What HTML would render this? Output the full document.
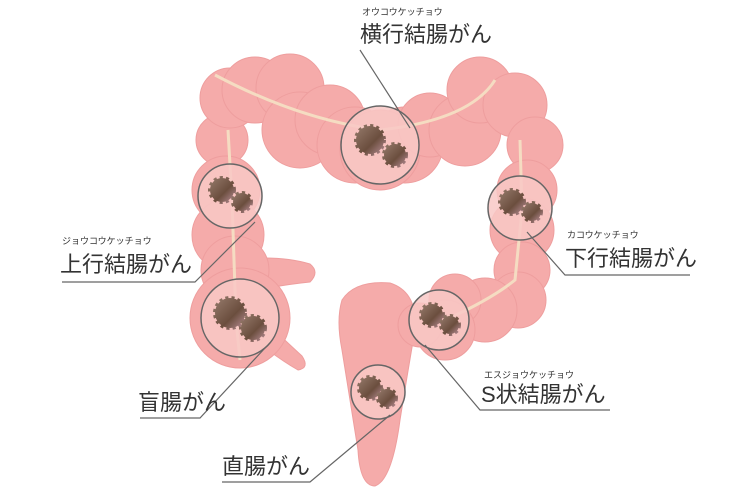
<!DOCTYPE html>
<html><head><meta charset="utf-8"><style>
html,body{margin:0;padding:0;background:#fff}
svg{display:block}
text{font-family:"Liberation Sans","Noto Sans CJK JP",sans-serif;fill:#333}
.big{font-size:22px}
.sm{font-size:9px}
</style></head><body>
<svg width="750" height="500" viewBox="0 0 750 500">
<g fill="#f5abaa" stroke="#ee9e9e" stroke-width="1">
<path d="M265 258 Q290 258 310 264 Q320 272 310 282 Q290 284 268 288 Z"/>
<path d="M272 328 Q290 345 302 356 Q310 368 298 370 Q284 362 268 350 Z"/>
<path d="M342 300 Q355 280 390 283 Q418 292 415 330 Q408 370 400 420 Q392 480 375 486 Q360 486 358 450 Q350 400 342 350 Q336 320 342 300 Z"/>
<circle cx="222" cy="140" r="26"/><circle cx="226" cy="190" r="34"/><circle cx="228" cy="235" r="36"/><circle cx="235" cy="270" r="34"/><circle cx="240" cy="318" r="50"/>
<circle cx="230" cy="98" r="30"/><circle cx="255" cy="90" r="33"/><circle cx="290" cy="88" r="34"/><circle cx="300" cy="130" r="38"/><circle cx="330" cy="120" r="35"/>
<circle cx="355" cy="145" r="38"/><circle cx="405" cy="145" r="38"/><circle cx="380" cy="150" r="40"/>
<circle cx="430" cy="125" r="32"/><circle cx="465" cy="130" r="36"/><circle cx="480" cy="90" r="33"/><circle cx="515" cy="105" r="32"/>
<circle cx="535" cy="145" r="28"/><circle cx="527" cy="190" r="30"/><circle cx="522" cy="230" r="32"/><circle cx="522" cy="270" r="28"/><circle cx="518" cy="300" r="28"/>
<circle cx="485" cy="310" r="32"/><circle cx="455" cy="300" r="26"/><circle cx="445" cy="330" r="30"/><circle cx="420" cy="325" r="22"/>
</g>
<g fill="none" stroke="#f5dcc2" stroke-width="3">
<path d="M215 75 Q300 120 380 130 Q470 120 495 80"/>
<path d="M228 130 L232 200 L236 320 L240 360"/>
<path d="M520 140 L522 210 L515 280 Q490 300 445 320"/>
</g>
<g fill="#f8c8c6" fill-opacity="0.85" stroke="#666" stroke-width="1.5">
<circle cx="380" cy="145" r="39"/><circle cx="230" cy="196" r="32"/><circle cx="520" cy="208" r="32"/>
<circle cx="240" cy="318" r="39"/><circle cx="439" cy="320" r="30"/><circle cx="378" cy="392" r="27"/>
</g>
<defs><linearGradient id="g" x1="0" y1="0" x2="1" y2="1"><stop offset="0" stop-color="#94796a"/><stop offset="0.6" stop-color="#6b4e3e"/><stop offset="1" stop-color="#b48a92"/></linearGradient></defs>
<g fill="url(#g)" stroke="url(#g)" stroke-width="4" stroke-dasharray="3 3">
<circle cx="370" cy="140" r="14"/><circle cx="395" cy="155" r="11"/>
<circle cx="222" cy="190" r="12"/><circle cx="242" cy="202" r="9"/>
<circle cx="512" cy="202" r="12"/><circle cx="532" cy="212" r="9"/>
<circle cx="230" cy="313" r="15"/><circle cx="253" cy="328" r="12"/>
<circle cx="432" cy="315" r="11"/><circle cx="450" cy="325" r="9"/>
<circle cx="370" cy="388" r="11"/><circle cx="387" cy="398" r="9"/>
</g>
<g fill="none" stroke="#666" stroke-width="1.2">
<path d="M360 50 L410 128"/>
<path d="M62 282 L195 282 L255 222"/>
<path d="M690 275 L565 275 L527 232"/>
<path d="M140 418 L200 418 L265 348"/>
<path d="M222 482 L310 482 L390 415"/>
<path d="M610 410 L480 410 L425 345"/>
</g>
<text class="sm" x="362" y="15">オウコウケッチョウ</text>
<text class="big" x="360" y="42">横行結腸がん</text>
<text class="sm" x="62" y="244">ジョウコウケッチョウ</text>
<text class="big" x="60" y="272">上行結腸がん</text>
<text class="sm" x="567" y="238">カコウケッチョウ</text>
<text class="big" x="565" y="266">下行結腸がん</text>
<text class="big" x="138" y="410">盲腸がん</text>
<text class="big" x="222" y="474">直腸がん</text>
<text class="sm" x="484" y="378">エスジョウケッチョウ</text>
<text class="big" x="481" y="402">S状結腸がん</text>
</svg>
</body></html>
